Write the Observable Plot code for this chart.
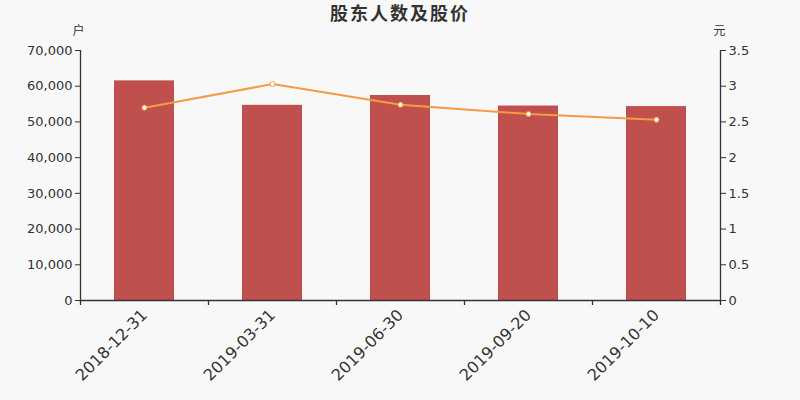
<!DOCTYPE html>
<html>
<head>
<meta charset="utf-8">
<script src="https://cdn.jsdelivr.net/npm/d3@7"></script>
<script src="https://cdn.jsdelivr.net/npm/@observablehq/plot@0.6"></script>
<style>
  html, body { margin: 0; padding: 0; background: #f8f8f8; }
  #wrap { position: relative; width: 800px; height: 400px; font-family: "DejaVu Sans", sans-serif; }
  #title { position: absolute; left: 0; top: -1px; width: 800px; text-align: center; font-family: "Noto Sans CJK SC", sans-serif; font-weight: bold; font-size: 18px; color: #333; letter-spacing: 2px; }
</style>
</head>
<body>
<div id="wrap"><div id="title">股东人数及股价</div></div>
<script>
const dates = ["2018-12-31", "2019-03-31", "2019-06-30", "2019-09-20", "2019-10-10"];
const holders = [61500, 54650, 57400, 54450, 54300];
const prices = [2.70, 3.03, 2.74, 2.61, 2.53];
const leftTicks = [0, 10000, 20000, 30000, 40000, 50000, 60000, 70000];
const rightTicks = [0, 0.5, 1, 1.5, 2, 2.5, 3, 3.5];
const ratio = 20000; // right-axis unit to left-axis unit

const rows = dates.map((d, i) => ({date: d, i, holders: holders[i], price: prices[i]}));
const barColor = "#c0504d";
const lineColor = "#f79a45";
const ink = "#333";

const chart = Plot.plot({
  width: 800,
  height: 400,
  marginLeft: 80,
  marginRight: 80,
  marginTop: 50,
  marginBottom: 100,
  style: {background: "#f8f8f8", fontFamily: "DejaVu Sans, sans-serif", color: ink},
  x: {type: "linear", domain: [0, dates.length], axis: null},
  y: {domain: [0, 70000], axis: null},
  marks: [
    Plot.rectY(rows, {x1: d => d.i, x2: d => d.i + 1, y: "holders", fill: barColor, insetLeft: 34, insetRight: 34}),
    Plot.line(rows, {x: d => d.i + 0.5, y: d => d.price * ratio, stroke: lineColor, strokeWidth: 2}),
    Plot.dot(rows, {x: d => d.i + 0.5, y: d => d.price * ratio, r: 2.5, fill: "white", stroke: lineColor, strokeWidth: 1}),
    Plot.ruleY([0], {stroke: ink, strokeWidth: 1.3}),
    Plot.ruleX([0, dates.length], {stroke: ink, strokeWidth: 1.3}),
    Plot.axisY({anchor: "left", ticks: leftTicks, tickSize: 5, tickPadding: 3, fontSize: 13, label: null, tickFormat: d => d3.format(",")(d), stroke: ink, fill: ink}),
    Plot.axisY({anchor: "right", ticks: rightTicks.map(v => v * ratio), tickSize: 5, tickPadding: 3, fontSize: 13, label: null, tickFormat: d => String(d / ratio), stroke: ink, fill: ink}),
    Plot.axisX({ticks: d3.range(dates.length + 1), tickSize: 5, tickFormat: () => "", label: null, stroke: ink, strokeWidth: 1.3}),
    Plot.axisX({ticks: dates.map((d, i) => i + 0.5), tickSize: 0, tickPadding: 12, tickRotate: -45, fontSize: 16, label: null, tickFormat: d => dates[Math.floor(d)], fill: ink}),
    Plot.text(["户"], {frameAnchor: "top-left", dx: -8, dy: -24, fontSize: 12, fill: ink, fontFamily: "Noto Sans CJK SC"}),
    Plot.text(["元"], {frameAnchor: "top-right", dx: 5, dy: -24, fontSize: 12, fill: ink, fontFamily: "Noto Sans CJK SC"})
  ]
});
document.getElementById("wrap").appendChild(chart);
chart.style.position = "absolute";
chart.style.left = "0";
chart.style.top = "0";
document.getElementById("title").style.zIndex = 2;
</script>
</body>
</html>
